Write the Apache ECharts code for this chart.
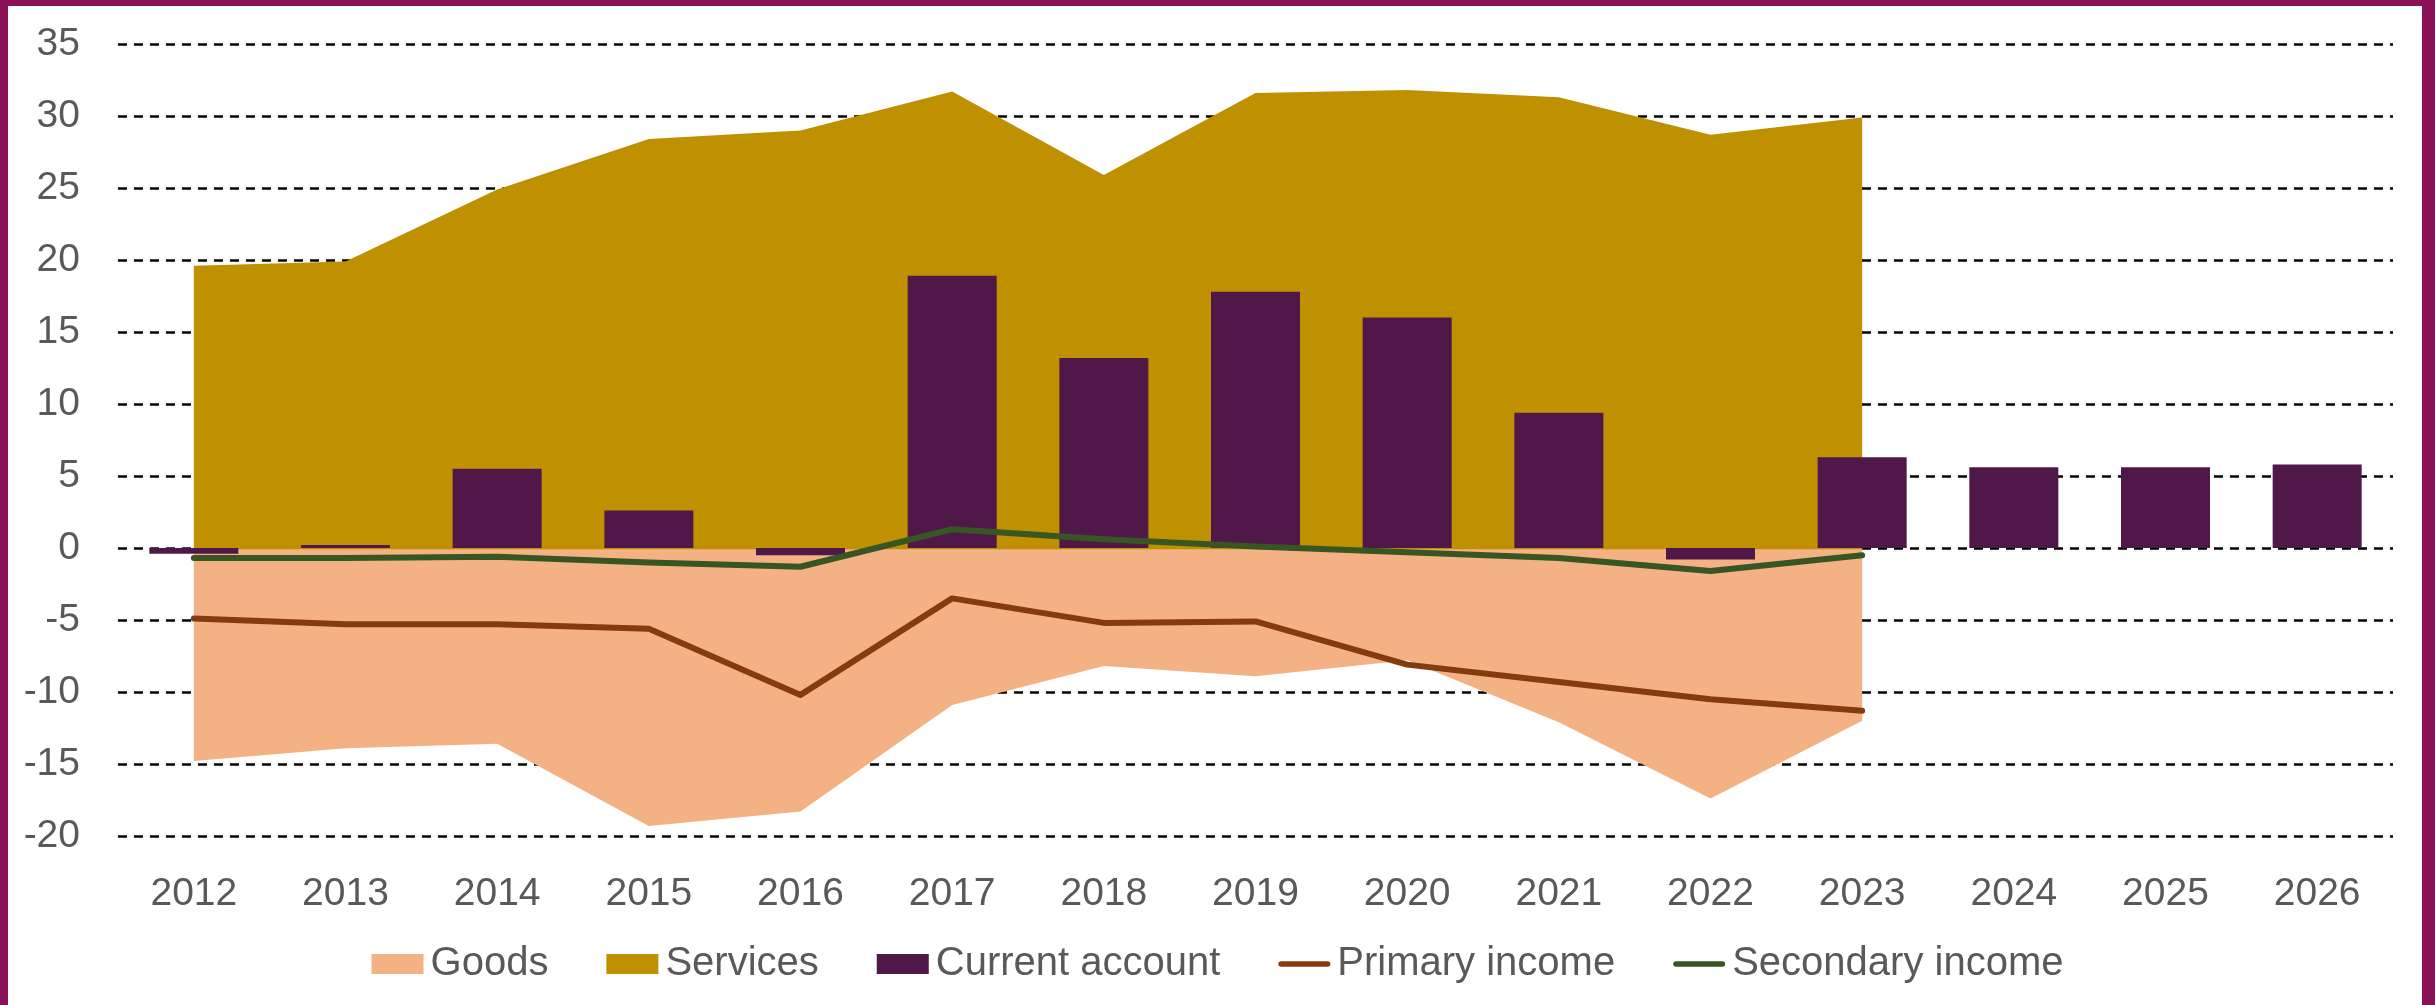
<!DOCTYPE html>
<html>
<head>
<meta charset="utf-8">
<script src="https://cdn.jsdelivr.net/npm/echarts@6/dist/echarts.min.js"></script>
<style>
  html, body { margin: 0; padding: 0; background: #fff; }
  #wrap { position: relative; width: 2435px; height: 1005px; }
  #chart { position: absolute; left: 0; top: 0; width: 2435px; height: 1005px; }
  #frame { position: absolute; left: 0; top: 0; width: 2435px; height: 1005px; box-sizing: border-box;
           border-left: 8px solid #8A1057; border-top: 6px solid #8A1057; border-right: 13px solid #8A1057;
           pointer-events: none; }
</style>
</head>
<body>
<div id="wrap"><div id="chart"></div><div id="frame"></div></div>
<script>
const years = ['2012','2013','2014','2015','2016','2017','2018','2019','2020','2021','2022','2023','2024','2025','2026'];
const goods = [-14.8, -13.9, -13.6, -19.3, -18.3, -10.9, -8.2, -8.9, -7.8, -12.1, -17.4, -12.0, null, null, null];
const services = [19.6, 19.9, 24.9, 28.4, 29.0, 31.7, 25.9, 31.6, 31.8, 31.3, 28.7, 29.9, null, null, null];
const currentAccount = [-0.4, 0.2, 5.5, 2.6, -0.5, 18.9, 13.2, 17.8, 16.0, 9.4, -0.8, 6.3, 5.6, 5.6, 5.8];
const primaryIncome = [-4.9, -5.3, -5.3, -5.6, -10.2, -3.5, -5.2, -5.1, -8.1, -9.3, -10.5, -11.3, null, null, null];
const secondaryIncome = [-0.7, -0.7, -0.6, -1.0, -1.3, 1.3, 0.6, 0.1, -0.3, -0.7, -1.6, -0.5, null, null, null];
const yTicks = { min: -20, max: 35, interval: 5 };

const FONT = "'Liberation Sans', Arial, sans-serif";
const TXT = '#595959';
const C_GOODS = '#F4B183', C_SERV = '#BF9000', C_CA = '#4F1848', C_PRIM = '#843C0C', C_SEC = '#375623';
const LINE_ICON = 'path://M3,0 L53,0 A3,3 0 0 1 53,6 L3,6 A3,3 0 0 1 3,0 Z';

const chart = echarts.init(document.getElementById('chart'), null, { renderer: 'canvas' });
chart.setOption({
  animation: false,
  backgroundColor: '#fff',
  grid: { left: 118, right: 42, top: 44, bottom: 169, containLabel: false },
  legend: {
    bottom: 16,
    left: 'center',
    itemWidth: 52,
    itemHeight: 20,
    itemGap: 58,
    symbolKeepAspect: true,
    textStyle: { fontFamily: FONT, fontSize: 40, color: TXT, padding: [0, 0, 0, 2] },
    data: [
      { name: 'Goods', icon: 'rect' },
      { name: 'Services', icon: 'rect' },
      { name: 'Current account', icon: 'rect' },
      { name: 'Primary income', icon: LINE_ICON, itemStyle: { color: C_PRIM } },
      { name: 'Secondary income', icon: LINE_ICON, itemStyle: { color: C_SEC } }
    ]
  },
  xAxis: {
    type: 'category',
    data: years,
    boundaryGap: true,
    axisLine: { show: false },
    axisTick: { show: false },
    axisLabel: { fontFamily: FONT, fontSize: 39, color: TXT, margin: 39 },
    splitLine: { show: false }
  },
  yAxis: {
    type: 'value',
    min: yTicks.min, max: yTicks.max, interval: yTicks.interval,
    axisLine: { show: false },
    axisTick: { show: false },
    axisLabel: { fontFamily: FONT, fontSize: 39, color: TXT, margin: 38 },
    splitLine: { show: true, lineStyle: { color: '#000', width: 2.5, type: [9, 7] } }
  },
  series: [
    {
      name: 'Goods', type: 'line', data: goods,
      symbol: 'none', showSymbol: false,
      lineStyle: { width: 0, color: C_GOODS },
      itemStyle: { color: C_GOODS },
      areaStyle: { color: C_GOODS, opacity: 1, origin: 0.08 },
      z: 1
    },
    {
      name: 'Services', type: 'line', data: services,
      symbol: 'none', showSymbol: false,
      lineStyle: { width: 0, color: C_SERV },
      itemStyle: { color: C_SERV },
      areaStyle: { color: C_SERV, opacity: 1, origin: -0.08 },
      z: 1
    },
    {
      name: 'Current account', type: 'bar', data: currentAccount,
      barWidth: 89,
      itemStyle: { color: C_CA },
      z: 3
    },
    {
      name: 'Primary income', type: 'line', data: primaryIncome,
      symbol: 'none', showSymbol: false,
      lineStyle: { width: 6, color: C_PRIM, cap: 'round', join: 'round' },
      itemStyle: { color: C_PRIM },
      z: 4
    },
    {
      name: 'Secondary income', type: 'line', data: secondaryIncome,
      symbol: 'none', showSymbol: false,
      lineStyle: { width: 6, color: C_SEC, cap: 'round', join: 'round' },
      itemStyle: { color: C_SEC },
      z: 4
    }
  ]
});
</script>
</body>
</html>
